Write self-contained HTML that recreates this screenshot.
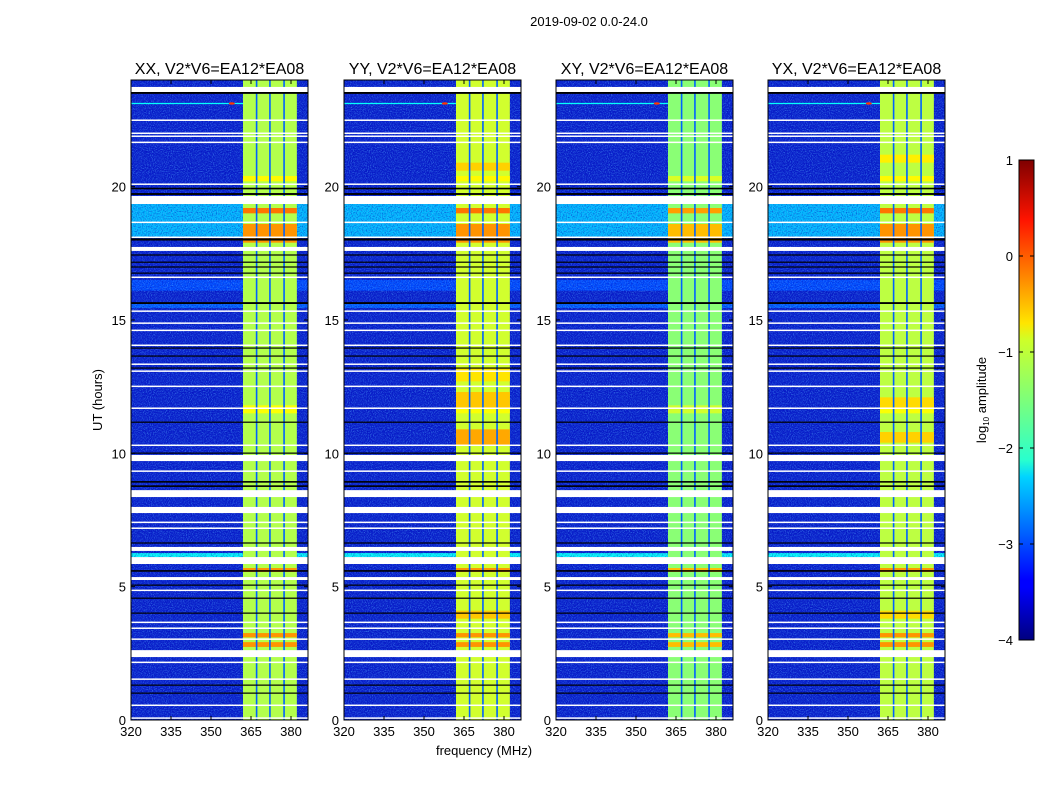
<!DOCTYPE html>
<html><head><meta charset="utf-8">
<style>
html,body{margin:0;padding:0;background:#fff;}
svg text{font-family:"Liberation Sans","DejaVu Sans",sans-serif;fill:#000;}
</style></head>
<body>
<svg id="fig" width="1050" height="800" viewBox="0 0 1050 800" xmlns="http://www.w3.org/2000/svg">
<defs>
<filter id="noise" x="0" y="0" width="100%" height="100%">
<feTurbulence type="fractalNoise" baseFrequency="0.95" numOctaves="1" seed="3"/>
<feColorMatrix type="matrix" values="0 0 0 0 0.1  0 0 0 0 0.45  0 0 0 0 1  0 0 0 2.2 -1.0"/>
</filter>
<filter id="noise2" x="0" y="0" width="100%" height="100%">
<feTurbulence type="fractalNoise" baseFrequency="0.8" numOctaves="1" seed="11"/>
<feColorMatrix type="matrix" values="0 0 0 0 0  0 0 0 0 0  0 0 0 0 0.45  0 0 0 2.0 -0.9"/>
</filter>
<linearGradient id="jet" x1="0" y1="1" x2="0" y2="0">
<stop offset="0" stop-color="#00007f"/><stop offset="0.11" stop-color="#0000ff"/>
<stop offset="0.125" stop-color="#0000ff"/><stop offset="0.34" stop-color="#00d4ff"/>
<stop offset="0.375" stop-color="#29ffce"/><stop offset="0.5" stop-color="#7dff7a"/>
<stop offset="0.625" stop-color="#ceff29"/><stop offset="0.66" stop-color="#ffe500"/>
<stop offset="0.875" stop-color="#ff1400"/><stop offset="1" stop-color="#7f0000"/>
</linearGradient>
</defs>
<text x="589" y="26" font-size="13" text-anchor="middle">2019-09-02 0.0-24.0</text>
<text x="0" y="0" font-size="13" text-anchor="middle" transform="translate(102,400) rotate(-90)">UT (hours)</text>
<text x="484" y="755" font-size="13" text-anchor="middle">frequency (MHz)</text>
<g id="panels"></g>
<g id="cbar">
<rect x="1019" y="160" width="15" height="480" fill="url(#jet)" stroke="#000" stroke-width="1"/>
<text font-size="13" text-anchor="middle" transform="translate(986,400) rotate(-90)">log<tspan font-size="8" dy="3">10</tspan><tspan dy="-3"> amplitude</tspan></text>
</g>
</svg>
<script>
const NS="http://www.w3.org/2000/svg";
// ---- data ----
const panelTitles=["XX, V2*V6=EA12*EA08","YY, V2*V6=EA12*EA08","XY, V2*V6=EA12*EA08","YX, V2*V6=EA12*EA08"];
const panelLeft=[131,344,556,768];
const xTicks=[320,335,350,365,380];
const yTicks=[0,5,10,15,20];
const cbarTicks=[1,0,-1,-2,-3,-4];
const bandLevel=[-1.25,-1.1,-1.45,-1.2];
const bandRange=[362,382.2];
const bandGaps=[367.1,372.1,377.4];
const flaggedRows=[[23.55,23.74],[22.48,22.52],[21.99,22.03],[21.88,21.92],[21.65,21.69],[20.08,20.12],[19.35,19.65],[18.65,18.69],[18.09,18.13],[17.59,17.74],[16.59,16.63],[15.32,15.36],[14.87,14.91],[14.6,14.64],[14.04,14.08],[13.33,13.37],[13.07,13.11],[12.5,12.54],[11.68,11.72],[10.29,10.33],[9.71,9.94],[9.32,9.36],[8.36,8.62],[7.76,7.99],[7.4,7.44],[7.18,7.22],[6.34,6.49],[5.85,6.11],[5.25,5.36],[4.85,4.89],[3.65,3.69],[3.43,3.47],[3.02,3.06],[2.36,2.62],[2.15,2.19],[1.52,1.56],[0.54,0.58],[0.06,0.1]];
const blackRows=[[23.48,23.55],[19.9,19.96],[19.69,19.76],[17.98,18.06],[17.42,17.46],[17.15,17.19],[16.97,17.01],[16.74,16.78],[15.6,15.67],[13.93,13.97],[13.63,13.67],[13.18,13.22],[11.15,11.19],[9.99,10.03],[8.9,8.96],[8.74,8.8],[6.62,6.66],[5.56,5.62],[5.04,5.08],[4.55,4.59],[3.99,4.03],[1.29,1.33],[0.99,1.03]];
const warmRows=[[18.13,19.35,-2.45],[6.11,6.26,-2.1],[15.45,15.6,-2.9],[16.1,16.5,-3.0]];
const hotRows=[[17.9,18.6,-0.35],[19.0,19.2,-0.2],[5.55,5.7,-0.35],[3.1,3.26,-0.35],[2.74,2.92,-0.35],[20.2,20.4,-0.85],[11.5,11.8,-0.9]];
const hotYY=[[10.3,10.9,-0.45],[11.7,12.3,-0.6],[12.7,13.2,-0.75],[20.6,20.9,-0.65],[3.8,4.1,-0.6]];
const hotYX=[[10.4,10.8,-0.65],[11.7,12.1,-0.7],[20.9,21.2,-0.8],[3.8,4.1,-0.7]];
const spikeTime=23.12, spikeFreq=357.8;
// ---- helpers ----
function jet(v){let n=(v+4)/5;n=Math.max(0,Math.min(1,n));
 const c=x=>Math.round(255*Math.max(0,Math.min(1,x)));
 return `rgb(${c(1.5-Math.abs(4*n-3))},${c(1.5-Math.abs(4*n-2))},${c(1.5-Math.abs(4*n-1))})`;}
const PW=177,PT=80,PB=720;
function yS(t){return PB-(t/24)*(PB-PT);}
function mk(tag,attrs,parent){const e=document.createElementNS(NS,tag);for(const k in attrs)e.setAttribute(k,attrs[k]);parent.appendChild(e);return e;}
const root=document.getElementById('panels');
panelTitles.forEach((title,p)=>{
 const L=panelLeft[p];
 const xS=f=>L+(f-320)*160/60;
 const g=mk('g',{},root);
 
 
 mk('rect',{x:L,y:PT,width:PW,height:PB-PT,fill:'#0a22cc'},g);
 warmRows.forEach(r=>{const e=mk('rect',{x:L,y:yS(r[1]),width:PW,height:yS(r[0])-yS(r[1]),fill:jet(r[2])},g);
  
  });
 const nz=mk('rect',{x:L,y:PT,width:PW,height:PB-PT,filter:'url(#noise)',opacity:0.75},g);
 
 
 const nz2=mk('rect',{x:L,y:PT,width:PW,height:PB-PT,filter:'url(#noise2)',opacity:0.7},g);
 
 
 const band=mk('rect',{x:xS(bandRange[0]),y:PT,width:xS(bandRange[1])-xS(bandRange[0]),height:PB-PT,fill:jet(bandLevel[p])},g);
 
 
 let hots=hotRows.slice();if(p===1)hots=hots.concat(hotYY);if(p===3)hots=hots.concat(hotYX);
 hots.forEach(r=>{const lv=p===2?r[2]-0.2:r[2];
  const e=mk('rect',{x:xS(bandRange[0]),y:yS(r[1]),width:xS(bandRange[1])-xS(bandRange[0]),height:yS(r[0])-yS(r[1]),fill:jet(lv)},g);
  
  });
 bandGaps.forEach(f=>{const e=mk('rect',{x:xS(f)-0.8,y:PT,width:1.6,height:PB-PT,fill:jet(-2.9)},g);
  
  });
 const sp=mk('line',{x1:L,x2:xS(bandRange[0]),y1:yS(spikeTime),y2:yS(spikeTime),stroke:jet(-2.1),'stroke-width':1.2},g);
 
 
 const sd=mk('ellipse',{cx:xS(spikeFreq),cy:yS(spikeTime),rx:3,ry:1.2,fill:jet(0.1)},g);
 
 
 flaggedRows.forEach(r=>{const h=Math.max(1.5,yS(r[0])-yS(r[1]));
  const e=mk('rect',{x:L,y:yS(r[1]),width:PW,height:h,fill:'#fff'},g);
  
  });
 blackRows.forEach(r=>{const h=Math.max(1.2,yS(r[0])-yS(r[1]));
  const e=mk('rect',{x:L,y:yS(r[1]),width:PW,height:h,fill:'#000'},g);
  
  });
 const fr=mk('rect',{x:L,y:PT,width:PW,height:PB-PT,fill:'none',stroke:'#000','stroke-width':1},g);
 
 
 const tt=mk('text',{x:L+PW/2,y:74,'font-size':16,'text-anchor':'middle'},g);tt.textContent=title;
 
 
 xTicks.forEach(f=>{const x=xS(f);
  mk('line',{x1:x,x2:x,y1:PB,y2:PB-4,stroke:'#000'},g);mk('line',{x1:x,x2:x,y1:PT,y2:PT+4,stroke:'#000'},g);
  const t=mk('text',{x:x,y:PB+16,'font-size':13,'text-anchor':'middle'},g);t.textContent=f;
  
  });
 yTicks.forEach(v=>{const y=yS(v);
  mk('line',{x1:L,x2:L+4,y1:y,y2:y,stroke:'#000'},g);mk('line',{x1:L+PW,x2:L+PW-4,y1:y,y2:y,stroke:'#000'},g);
  const t=mk('text',{x:L-5,y:y+5,'font-size':13,'text-anchor':'end'},g);t.textContent=v;
  
  });
});
const cb=document.getElementById('cbar');
cbarTicks.forEach(v=>{const y=640-(v+4)/5*480;
 mk('line',{x1:1019,x2:1023,y1:y,y2:y,stroke:'#000'},cb);mk('line',{x1:1034,x2:1030,y1:y,y2:y,stroke:'#000'},cb);
 const t=mk('text',{x:1013,y:y+5,'font-size':13,'text-anchor':'end'},cb);t.textContent=v<0?'\u2212'+(-v):String(v);
 
 });
</script>
</body></html>
